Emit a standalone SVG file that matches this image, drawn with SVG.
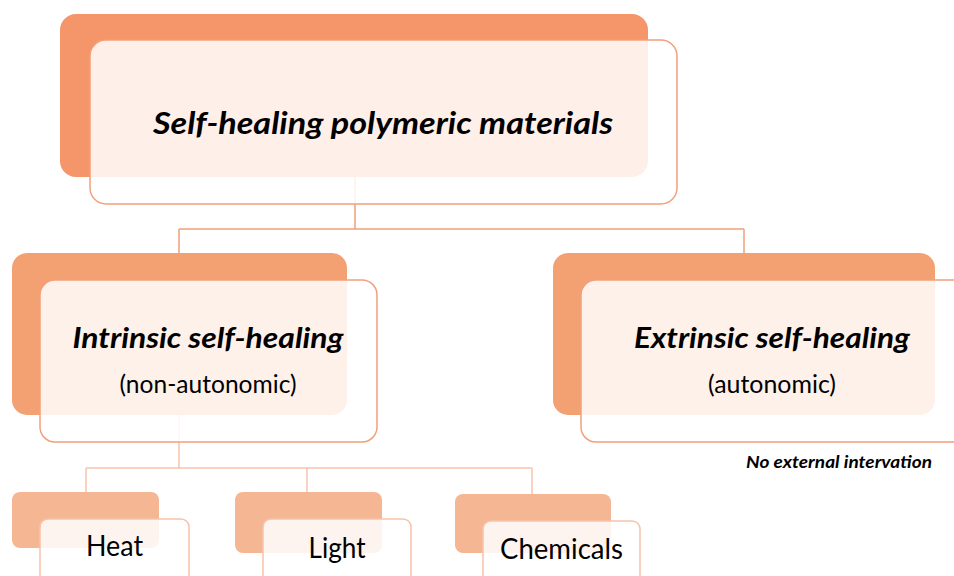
<svg xmlns="http://www.w3.org/2000/svg" width="954" height="576" viewBox="0 0 954 576">
  <style>
    .back1 { fill: #F4956A; }
    .back2 { fill: #F3A072; }
    .back3 { fill: #F5B693; }
    .front { fill: #FFFFFF; fill-opacity: 0.85; stroke: #F2A07C; stroke-width: 1.5; }
    .front3 { fill: #FFFFFF; fill-opacity: 0.85; stroke: #F7C2AA; stroke-width: 1.5; }
    .conn1 { fill: none; stroke: #EFA07A; stroke-width: 1.5; }
    .conn2 { fill: none; stroke: #F7C3AC; stroke-width: 1.5; }
    .title { font-family: Lato, "Liberation Sans", sans-serif; font-weight: bold; font-style: italic; fill: #000; text-anchor: middle; }
    .sub { font-family: Lato, "Liberation Sans", sans-serif; fill: #000; text-anchor: middle; }
  </style>

  <!-- tree connectors, drawn beneath the boxes -->
  <g id="connectors">
    <path class="conn1" d="M355,177 V229 M179,229 H744 M179,229 V253 M744,229 V253"/>
    <path class="conn2" d="M179,415 V468 M86,468 H532 M86,468 V492 M307,468 V492 M532,468 V494"/>
  </g>

  <!-- root -->
  <g id="root">
    <rect class="back1" x="60" y="14" width="588" height="163" rx="16"/>
    <rect class="front" x="90" y="40" width="587" height="164" rx="16"/>
    <text class="title" x="383" y="134" font-size="31" textLength="460" lengthAdjust="spacingAndGlyphs">Self-healing polymeric materials</text>
  </g>

  <!-- intrinsic branch -->
  <g id="intrinsic">
    <rect class="back2" x="12" y="253" width="335" height="162" rx="15"/>
    <rect class="front" x="40" y="280" width="337" height="162" rx="15"/>
    <text class="title" x="208" y="348" font-size="29" textLength="271" lengthAdjust="spacingAndGlyphs">Intrinsic self-healing</text>
    <text class="sub" x="208" y="393" font-size="25" textLength="177" lengthAdjust="spacingAndGlyphs">(non-autonomic)</text>
  </g>

  <!-- extrinsic branch -->
  <g id="extrinsic">
    <rect class="back2" x="553" y="253" width="382" height="162" rx="15"/>
    <rect class="front" x="581" y="280" width="390" height="162" rx="15"/>
    <text class="title" x="772" y="348" font-size="29" textLength="276" lengthAdjust="spacingAndGlyphs">Extrinsic self-healing</text>
    <text class="sub" x="772" y="393" font-size="25" textLength="128" lengthAdjust="spacingAndGlyphs">(autonomic)</text>
    <text class="title" x="839" y="468" font-size="17" textLength="186" lengthAdjust="spacingAndGlyphs">No external intervation</text>
  </g>

  <!-- stimuli for intrinsic healing -->
  <g id="heat">
    <rect class="back3" x="12" y="492" width="147" height="56" rx="8"/>
    <rect class="front3" x="40" y="519" width="149" height="70" rx="8"/>
    <text class="sub" x="114.5" y="556" font-size="28" textLength="57" lengthAdjust="spacingAndGlyphs">Heat</text>
  </g>
  <g id="light">
    <rect class="back3" x="235" y="492" width="147" height="61" rx="8"/>
    <rect class="front3" x="263" y="519" width="148" height="70" rx="8"/>
    <text class="sub" x="337" y="558" font-size="28" textLength="57" lengthAdjust="spacingAndGlyphs">Light</text>
  </g>
  <g id="chemicals">
    <rect class="back3" x="455" y="494" width="156" height="59" rx="8"/>
    <rect class="front3" x="483" y="521" width="157" height="70" rx="8"/>
    <text class="sub" x="561.5" y="559" font-size="28" textLength="123" lengthAdjust="spacingAndGlyphs">Chemicals</text>
  </g>
</svg>
